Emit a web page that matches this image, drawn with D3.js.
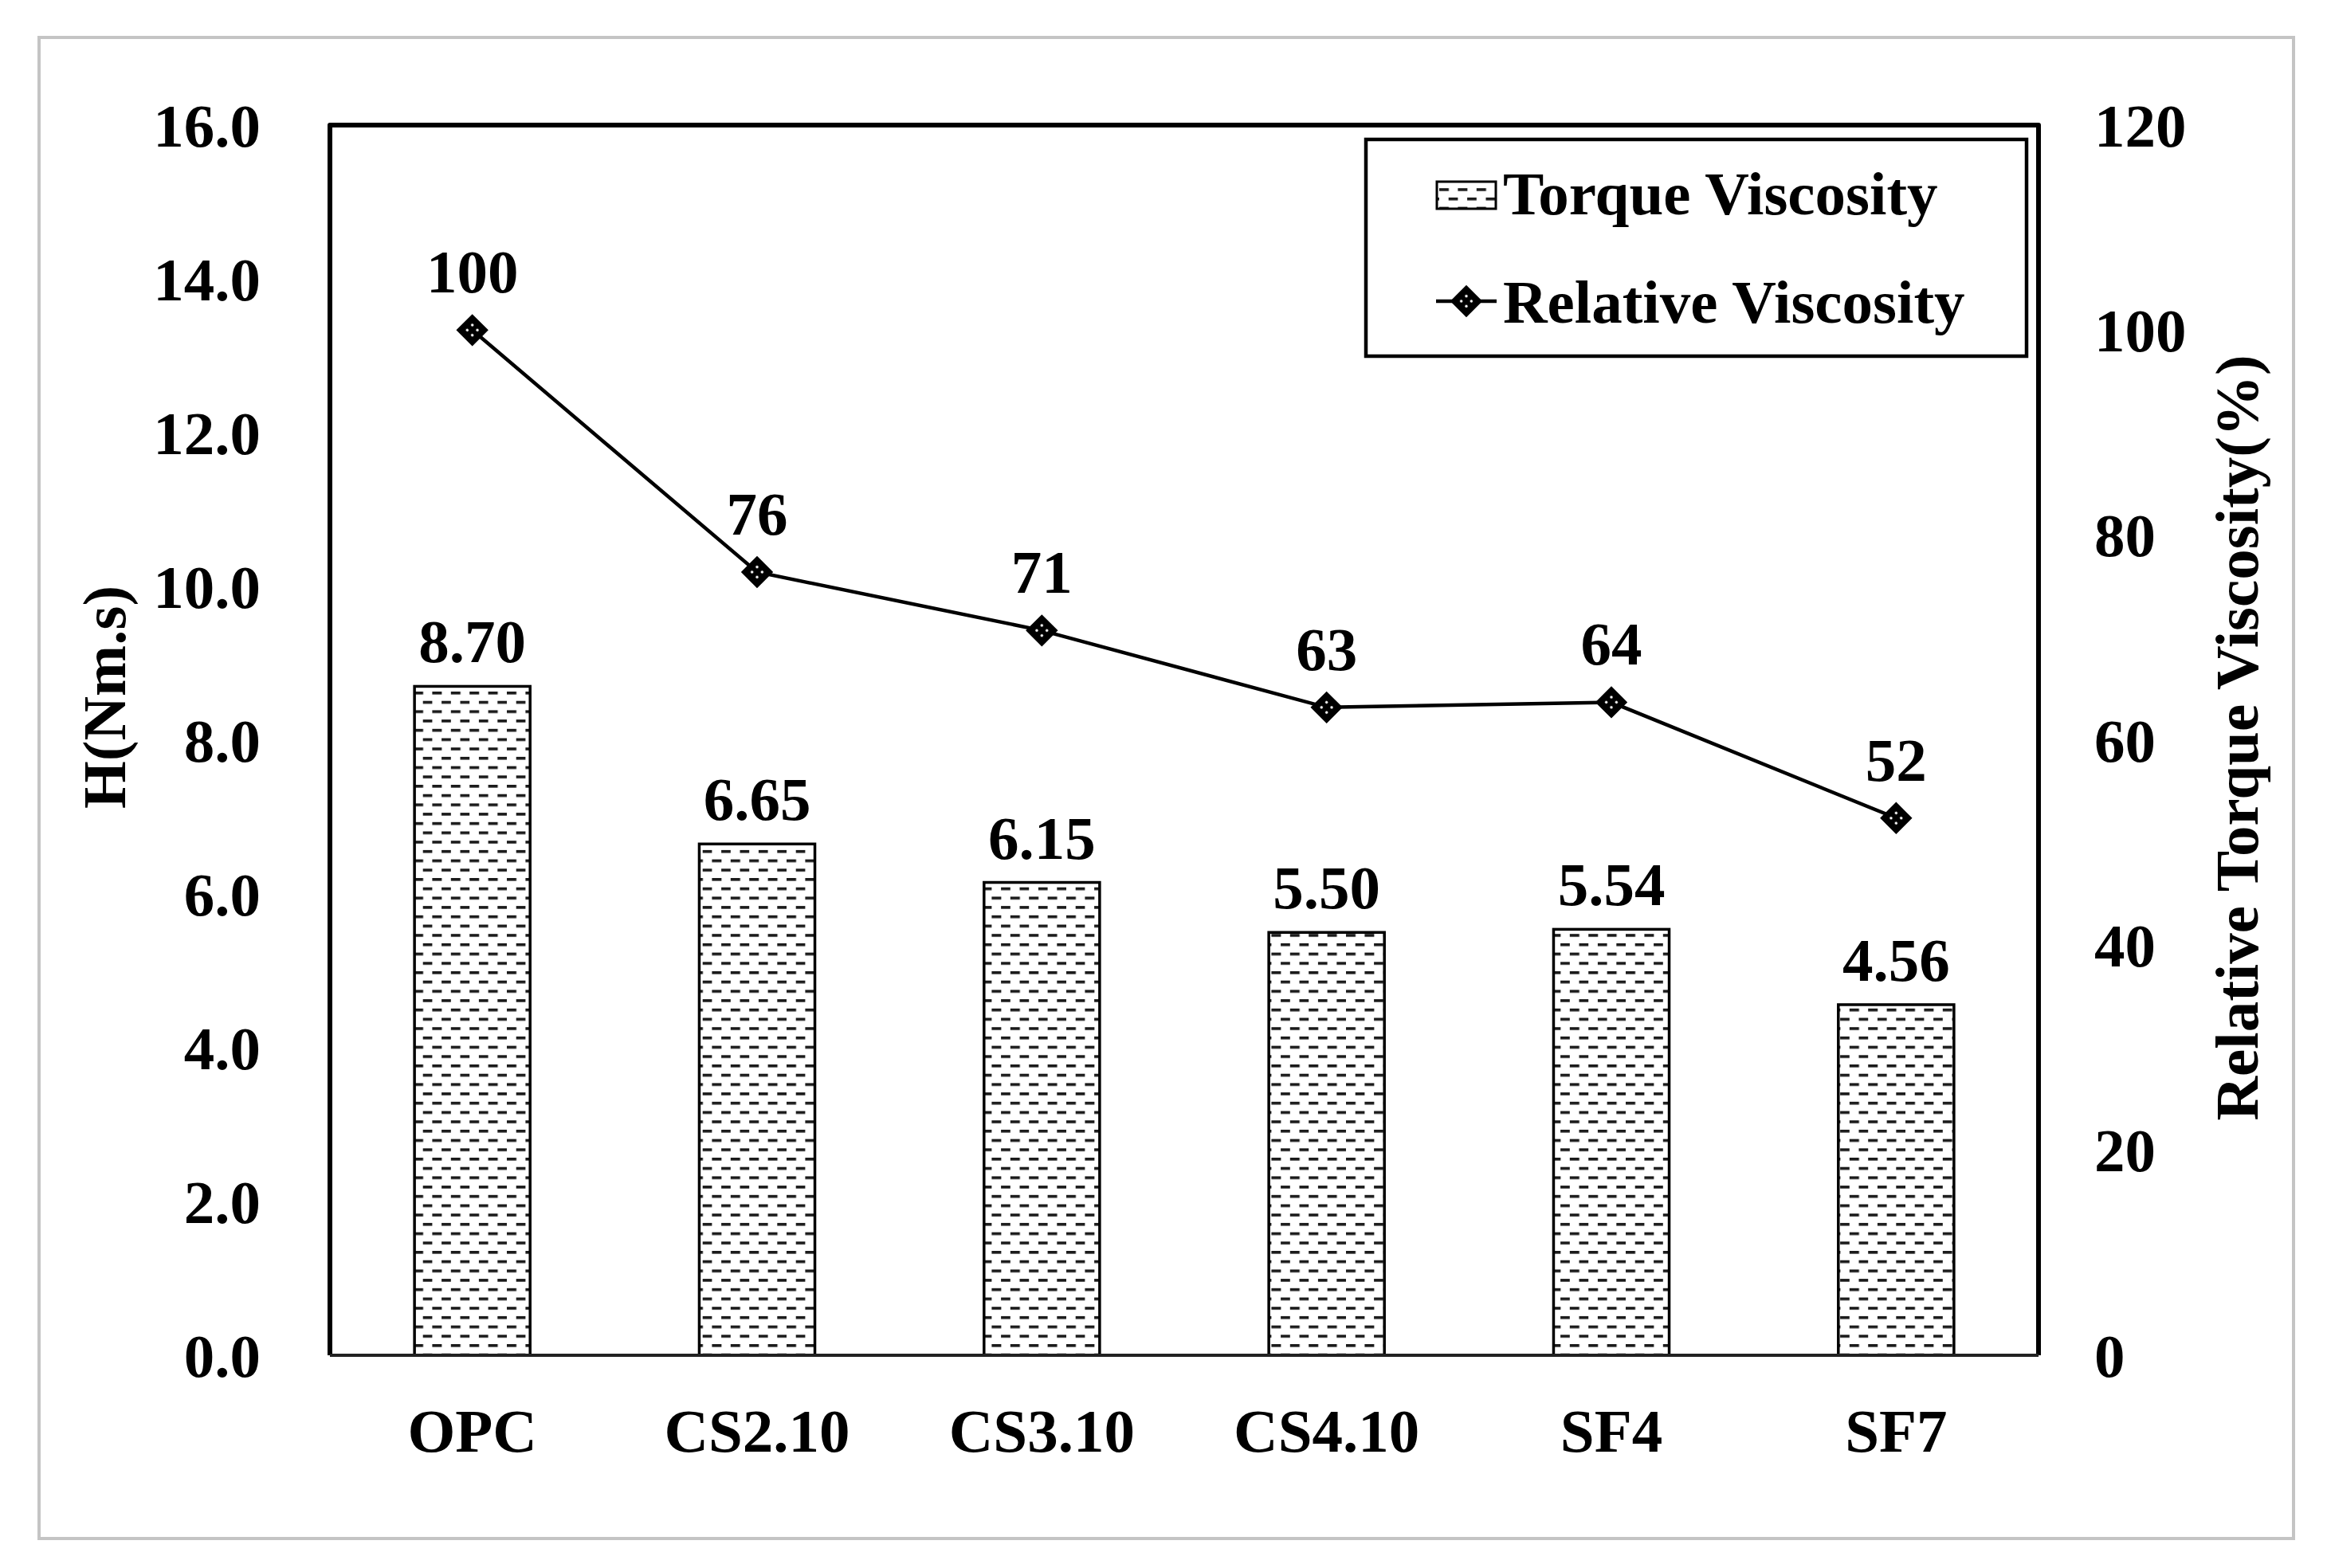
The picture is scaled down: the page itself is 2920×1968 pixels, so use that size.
<!DOCTYPE html>
<html lang="en">
<head>
  <meta charset="UTF-8" />
  <title>Torque Viscosity</title>
  <script src="https://d3js.org/d3.v7.min.js"></script>
  <style>
    body { margin: 0; background: #fff; }
    svg { display: block; }
    text { font-family: "Liberation Serif", "Times New Roman", serif; font-weight: bold; fill: #000; }
  </style>
</head>
<body>
  <svg id="chart" width="2920" height="1968"></svg>

  <script>
    // data
    const categories = ["OPC", "CS2.10", "CS3.10", "CS4.10", "SF4", "SF7"];
    const torqueVisc = [8.70, 6.65, 6.15, 5.50, 5.54, 4.56];
    const relVisc = [100, 76.4, 70.7, 63.2, 63.7, 52.4];
    const leftTicks = [0, 2, 4, 6, 8, 10, 12, 14, 16];
    const rightTicks = [0, 20, 40, 60, 80, 100, 120];

    const svg = d3.select("#chart");
    const fs = 77;

    const plot = { left: 414, top: 157, right: 2558, bottom: 1701 };

    // patterns
    const defs = svg.append("defs");
    const pat = defs.append("pattern")
      .attr("id", "dashes")
      .attr("patternUnits", "userSpaceOnUse")
      .attr("width", 23.4).attr("height", 23.4)
      .attr("x", 519).attr("y", 868);
    pat.append("rect").attr("width", 23.4).attr("height", 23.4).attr("fill", "#fff");
    pat.append("rect").attr("x", 0).attr("y", 0).attr("width", 12).attr("height", 3.6).attr("fill", "#1a1a1a");
    pat.append("rect").attr("x", 11.7).attr("y", 11.7).attr("width", 12).attr("height", 3.6).attr("fill", "#1a1a1a");

    const dots = defs.append("pattern")
      .attr("id", "dots")
      .attr("patternUnits", "userSpaceOnUse")
      .attr("width", 9).attr("height", 9)
      .attr("patternTransform", "rotate(45)");
    dots.append("rect").attr("width", 9).attr("height", 9).attr("fill", "#000");
    dots.append("circle").attr("cx", 4.5).attr("cy", 4.5).attr("r", 1.7).attr("fill", "#fff");

    // outer frame
    svg.append("rect")
      .attr("x", 49).attr("y", 47)
      .attr("width", 2878 - 49).attr("height", 1931 - 47)
      .attr("fill", "#fff")
      .attr("stroke", "#c4c4c4").attr("stroke-width", 4);

    const x = d3.scaleBand()
      .domain(categories)
      .range([plot.left, plot.right])
      .padding(0);
    const barW = x.bandwidth() * 0.406;

    const yL = d3.scaleLinear().domain([0, 16]).range([plot.bottom, plot.top]);
    const yR = d3.scaleLinear().domain([0, 120]).range([plot.bottom, plot.top]);

    // bars
    svg.append("g").selectAll("rect")
      .data(torqueVisc)
      .join("rect")
      .attr("x", (d, i) => x(categories[i]) + x.bandwidth() / 2 - barW / 2)
      .attr("y", d => yL(d))
      .attr("width", barW)
      .attr("height", d => yL(0) - yL(d))
      .attr("fill", "url(#dashes)")
      .attr("stroke", "#000")
      .attr("stroke-width", 3.5);

    svg.append("g").selectAll("text")
      .data(torqueVisc)
      .join("text")
      .attr("x", (d, i) => x(categories[i]) + x.bandwidth() / 2)
      .attr("y", d => yL(d) - 30)
      .attr("text-anchor", "middle")
      .attr("font-size", fs)
      .text(d => d3.format(".2f")(d));

    // plot frame
    svg.append("path")
      .attr("d", `M${plot.left},${plot.bottom}V${plot.top}H${plot.right}V${plot.bottom}`)
      .attr("fill", "none")
      .attr("stroke", "#000").attr("stroke-width", 6)
      .attr("stroke-linejoin", "round");
    svg.append("line")
      .attr("x1", plot.left).attr("x2", plot.right)
      .attr("y1", plot.bottom).attr("y2", plot.bottom)
      .attr("stroke", "#222").attr("stroke-width", 4);

    // line series
    const cx = (d, i) => x(categories[i]) + x.bandwidth() / 2;
    const line = d3.line().x(cx).y(d => yR(d));
    svg.append("path")
      .datum(relVisc)
      .attr("d", line)
      .attr("fill", "none")
      .attr("stroke", "#000")
      .attr("stroke-width", 4.5);

    const diamond = d3.symbol().type(d3.symbolDiamond2).size(800);
    svg.append("g").selectAll("path")
      .data(relVisc)
      .join("path")
      .attr("transform", (d, i) => `translate(${cx(d, i)},${yR(d)})`)
      .attr("d", diamond)
      .attr("fill", "url(#dots)")
      .attr("stroke", "#000")
      .attr("stroke-width", 3.5);

    svg.append("g").selectAll("text")
      .data(relVisc)
      .join("text")
      .attr("x", cx)
      .attr("y", d => yR(d) - 47)
      .attr("text-anchor", "middle")
      .attr("font-size", fs)
      .text(d => d3.format(".0f")(d));

    // axes
    const axL = svg.append("g")
      .attr("transform", `translate(${plot.left},0)`)
      .call(d3.axisLeft(yL).tickValues(leftTicks).tickSize(0).tickPadding(87).tickFormat(d3.format(".1f")));
    const axR = svg.append("g")
      .attr("transform", `translate(${plot.right},0)`)
      .call(d3.axisRight(yR).tickValues(rightTicks).tickSize(0).tickPadding(70).tickFormat(d3.format("d")));
    const axB = svg.append("g")
      .attr("transform", `translate(0,${plot.bottom})`)
      .call(d3.axisBottom(x).tickSize(0).tickPadding(66));
    [axL, axR, axB].forEach(a => {
      a.select(".domain").remove();
      a.selectAll("text")
        .attr("font-size", fs)
        .attr("font-family", null)
        .attr("fill", "#000");
    });
    axL.selectAll("text").attr("dy", "0.34em");
    axR.selectAll("text").attr("dy", "0.34em");
    axB.selectAll("text").attr("dy", "0.71em");

    // axis titles
    svg.append("text")
      .attr("transform", "translate(157,875) rotate(-90)")
      .attr("text-anchor", "middle")
      .attr("font-size", fs)
      .text("H(Nm.s)");
    svg.append("text")
      .attr("transform", "translate(2833,926) rotate(-90)")
      .attr("text-anchor", "middle")
      .attr("font-size", fs)
      .text("Relative Torque Viscosity(%)");

    // legend
    const lg = svg.append("g");
    lg.append("rect")
      .attr("x", 1714).attr("y", 175)
      .attr("width", 2543 - 1714).attr("height", 447 - 175)
      .attr("fill", "#fff")
      .attr("stroke", "#000").attr("stroke-width", 4.5);
    lg.append("rect")
      .attr("x", 1803).attr("y", 228)
      .attr("width", 74).attr("height", 34)
      .attr("fill", "url(#dashes)")
      .attr("stroke", "#000").attr("stroke-width", 3);
    lg.append("text")
      .attr("x", 1886).attr("y", 269)
      .attr("font-size", fs)
      .text("Torque Viscosity");
    lg.append("line")
      .attr("x1", 1802).attr("x2", 1878)
      .attr("y1", 378).attr("y2", 378)
      .attr("stroke", "#000").attr("stroke-width", 4.5);
    lg.append("path")
      .attr("transform", "translate(1840,378)")
      .attr("d", diamond)
      .attr("fill", "url(#dots)")
      .attr("stroke", "#000")
      .attr("stroke-width", 3.5);
    lg.append("text")
      .attr("x", 1886).attr("y", 405)
      .attr("font-size", fs)
      .text("Relative Viscosity");
  </script>
</body>
</html>
